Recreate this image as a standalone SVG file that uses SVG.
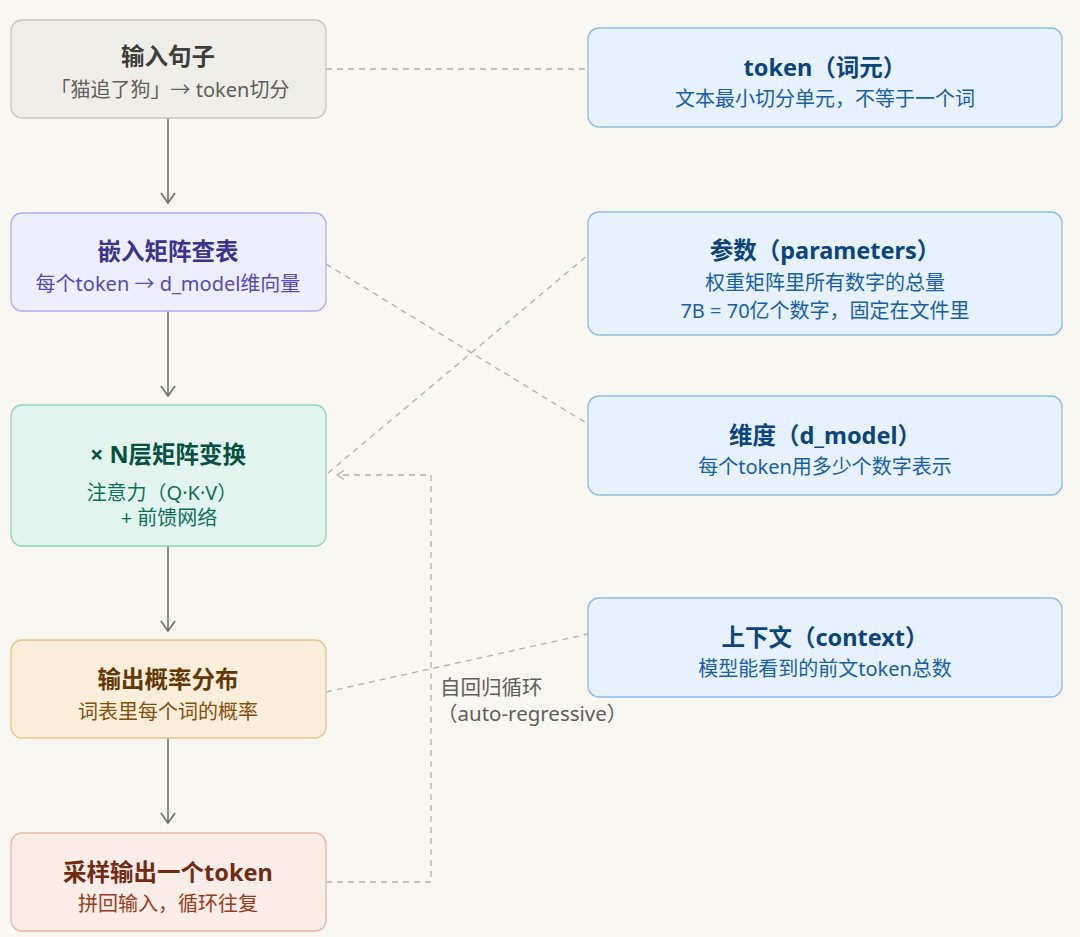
<svg xmlns="http://www.w3.org/2000/svg" width="1080" height="937" viewBox="0 0 1080 937">
<defs>
<style>
text{font-family:"Noto Sans","Noto Sans CJK SC",sans-serif;text-anchor:middle}
.t{font-size:23.5px;font-weight:700}
.s{font-size:20px}
.box{stroke-width:1.3}
.dash{fill:none;stroke:#b4b2a9;stroke-width:1.3;stroke-dasharray:6 5}
.arr{fill:none;stroke:#73726c;stroke-width:1.6}
.lbl{font-size:20.5px;fill:#5f5e5a;text-anchor:start}
</style>
<marker id="ah" viewBox="0 0 16 16" refX="12" refY="8" markerWidth="16" markerHeight="16" markerUnits="userSpaceOnUse" orient="auto">
<path d="M2 1 L12 8 L2 15" fill="none" stroke="#73726c" stroke-width="1.7"/>
</marker>
<marker id="oh" viewBox="0 0 12 12" refX="10" refY="6" markerWidth="12" markerHeight="12" markerUnits="userSpaceOnUse" orient="auto">
<path d="M3 1.5 L10 6 L3 10.5" fill="none" stroke="#b4b2a9" stroke-width="1.3"/>
</marker>
</defs>
<rect width="1080" height="937" fill="#f8f6f1"/>

<g id="connectors">
<line class="arr" x1="168" y1="118" x2="168" y2="203" marker-end="url(#ah)"/>
<line class="arr" x1="168" y1="311" x2="168" y2="396" marker-end="url(#ah)"/>
<line class="arr" x1="168" y1="546" x2="168" y2="631" marker-end="url(#ah)"/>
<line class="arr" x1="168" y1="738" x2="168" y2="823" marker-end="url(#ah)"/>
<line class="dash" x1="326" y1="69" x2="588" y2="69"/>
<line class="dash" x1="326" y1="264" x2="588" y2="424"/>
<line class="dash" x1="328" y1="473" x2="588" y2="255"/>
<line class="dash" x1="326" y1="692" x2="588" y2="634"/>
<path class="dash" d="M326 882 H431 V475 H337" marker-end="url(#oh)"/>
<text class="lbl" x="440" y="695">自回归循环</text>
<text class="lbl" x="437" y="721">（auto-regressive）</text>
</g>

<g id="n1">
<rect class="box" x="11" y="20" width="315" height="98" rx="11" fill="#efede8" stroke="#c9c7c0"/>
<text class="t" x="168" y="65" fill="#3d3d3a">输入句子</text>
<text class="s" x="170" y="97" fill="#5f5e5a">「猫追了狗」→ token切分</text>
</g>
<g id="n2">
<rect class="box" x="11" y="213" width="315" height="98" rx="11" fill="#eeedfc" stroke="#b2acef"/>
<text class="t" x="168" y="260" fill="#3c3489">嵌入矩阵查表</text>
<text class="s" x="168" y="291" fill="#534ab7">每个token → d_model维向量</text>
</g>
<g id="n3">
<rect class="box" x="11" y="405" width="315" height="141" rx="11" fill="#e1f5ee" stroke="#94d3bb"/>
<text class="t" x="168" y="463" fill="#085041">× N层矩阵变换</text>
<text class="s" x="162" y="500" fill="#0f6e56">注意力（Q·K·V）</text>
<text class="s" x="169" y="525" fill="#0f6e56">+ 前馈网络</text>
</g>
<g id="n4">
<rect class="box" x="11" y="640" width="315" height="98" rx="11" fill="#faeeda" stroke="#e3c88f"/>
<text class="t" x="168" y="688" fill="#633806">输出概率分布</text>
<text class="s" x="168" y="719" fill="#854f0b">词表里每个词的概率</text>
</g>
<g id="n5">
<rect class="box" x="11" y="833" width="315" height="98" rx="11" fill="#faece7" stroke="#e9b8a6"/>
<text class="t" x="168" y="881" fill="#712b13">采样输出一个token</text>
<text class="s" x="168" y="911" fill="#993c1d">拼回输入，循环往复</text>
</g>

<g id="r1">
<rect class="box" x="588" y="28" width="474" height="99" rx="11" fill="#e6f1fb" stroke="#8fbbe2"/>
<text class="t" x="825" y="76" fill="#0c447c">token（词元）</text>
<text class="s" x="825" y="106" fill="#185fa5">文本最小切分单元，不等于一个词</text>
</g>
<g id="r2">
<rect class="box" x="588" y="212" width="474" height="123" rx="11" fill="#e6f1fb" stroke="#8fbbe2"/>
<text class="t" x="825" y="259" fill="#0c447c">参数（parameters）</text>
<text class="s" x="825" y="290" fill="#185fa5">权重矩阵里所有数字的总量</text>
<text class="s" x="825" y="318" fill="#185fa5">7B = 70亿个数字，固定在文件里</text>
</g>
<g id="r3">
<rect class="box" x="588" y="396" width="474" height="99" rx="11" fill="#e6f1fb" stroke="#8fbbe2"/>
<text class="t" x="825" y="444" fill="#0c447c">维度（d_model）</text>
<text class="s" x="825" y="474" fill="#185fa5">每个token用多少个数字表示</text>
</g>
<g id="r4">
<rect class="box" x="588" y="598" width="474" height="99" rx="11" fill="#e6f1fb" stroke="#8fbbe2"/>
<text class="t" x="825" y="646" fill="#0c447c">上下文（context）</text>
<text class="s" x="825" y="676" fill="#185fa5">模型能看到的前文token总数</text>
</g>
</svg>
